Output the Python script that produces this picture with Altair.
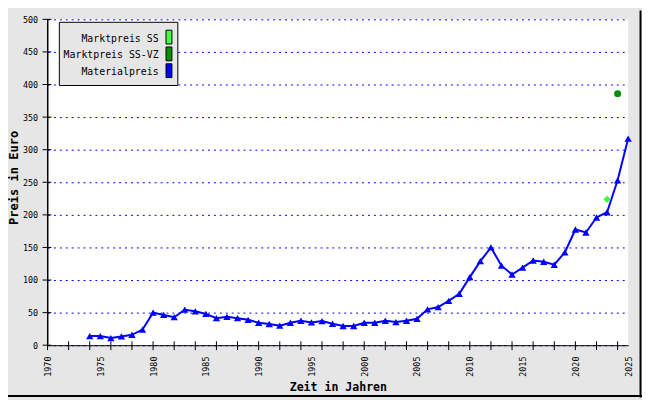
import altair as alt
import pandas as pd

# ---- data ----
years = list(range(1974, 2026))
material = [14, 14, 11, 13.5, 16, 24,
            50, 46.5, 43, 54.5, 52, 48, 41.5, 43.5, 41.5, 39,
            34.5, 32.5, 30, 34.5, 37.5, 35, 37, 33, 29.5, 29.5,
            34.5, 34.5, 37.5, 35.5, 37.5, 40.5, 55, 58.5, 68, 79,
            104.5, 129, 150, 122, 108.5, 119, 130, 128, 123.5, 142.5,
            177.5, 173, 196, 204, 253, 317]
ss_years = [2023]
ss_values = [224]
vz_years = [2024]
vz_values = [386]

x_label_years = list(range(1970, 2026, 5))
x_tick_years = list(range(1970, 2025, 2))
y_ticks = list(range(0, 501, 50))

legend_labels = ["Marktpreis SS", "Marktpreis SS-VZ", "Materialpreis"]
legend_colors = ["#40ff40", "#009100", "#0000ff"]

FONT = "DejaVu Sans Mono"
W, H = 588, 330

df = pd.DataFrame({"year": years, "value": material})
df_ss = pd.DataFrame({"year": ss_years, "value": ss_values})
df_vz = pd.DataFrame({"year": vz_years, "value": vz_values})
df_xt = pd.DataFrame({"year": x_tick_years})
df_yt = pd.DataFrame({"value": y_ticks})

xscale = alt.Scale(domain=[1970, 2025], nice=False, zero=False)
yscale = alt.Scale(domain=[0, 500], nice=False)

xaxis = alt.Axis(values=x_label_years, title="Zeit in Jahren", format="d",
                 labelAngle=270, labelAlign="right", labelBaseline="middle",
                 labelPadding=11, ticks=False, tickSize=0, grid=False,
                 labelFlush=False, labelOverlap=False,
                 domainColor="black", domainWidth=1,
                 labelFont=FONT, labelFontSize=8.5, labelColor="black",
                 titleFont=FONT, titleFontSize=11.7, titleFontWeight="bold",
                 titleColor="black", titleY=42, titleBaseline="middle", zindex=1)
yaxis = alt.Axis(values=y_ticks, title="Preis in Euro", format="d",
                 ticks=False, tickSize=0, labelPadding=10,
                 labelFlush=False, labelOverlap=False,
                 grid=True, gridColor="#0000ff", gridDash=[2, 4], gridWidth=1,
                 domainColor="black", domainWidth=1,
                 labelFont=FONT, labelFontSize=8.5, labelColor="black",
                 titleFont=FONT, titleFontSize=12.2, titleFontWeight="bold",
                 titleColor="black", titleAngle=270, titleX=-34, titleY=160,
                 titleAlign="center", titleBaseline="middle", zindex=0)

X = alt.X("year:Q", scale=xscale, axis=xaxis)
Y = alt.Y("value:Q", scale=yscale, axis=yaxis)

line = alt.Chart(df).mark_line(color="#0000ff", strokeWidth=2).encode(x=X, y=Y)
tri = alt.Chart(df).mark_point(shape="triangle-up", filled=True, size=55,
                               color="#0000ff", opacity=1).encode(x=X, y=Y)
ss = alt.Chart(df_ss).mark_point(shape="diamond", filled=True, size=55,
                                 color=legend_colors[0], opacity=1).encode(x=X, y=Y)
vz = alt.Chart(df_vz).mark_circle(size=50, color=legend_colors[1], opacity=1).encode(
    x=X, y=Y)

xticks = alt.Chart(df_xt).mark_rule(color="black", strokeWidth=1).encode(
    x=X, y=alt.value(H - 4), y2=alt.value(H + 5))
yticks = alt.Chart(df_yt).mark_rule(color="black", strokeWidth=1).encode(
    y=Y, x=alt.value(-5), x2=alt.value(4))
# y axis line drawn above the grid
ydomain = alt.Chart(alt.Data(values=[{}])).mark_rule(color="black", strokeWidth=1).encode(
    x=alt.value(0), y=alt.value(0), y2=alt.value(H))

one = alt.Data(values=[{}])
layers = [line, xticks, yticks, ydomain, tri, ss, vz]

# legend box
layers.append(alt.Chart(one).mark_rect(fill="#e6e6e6", stroke="black", strokeWidth=1).encode(
    x=alt.value(12), x2=alt.value(132), y=alt.value(3), y2=alt.value(67)))
for i, (lab, col) in enumerate(zip(legend_labels, legend_colors)):
    cy = 18 + 17 * i
    layers.append(alt.Chart(one).mark_rect(fill=col, stroke="black", strokeWidth=1).encode(
        x=alt.value(120), x2=alt.value(126), y=alt.value(cy - 7), y2=alt.value(cy + 7)))
    layers.append(alt.Chart(one).mark_text(font=FONT, fontSize=10, color="black",
                                           align="right", baseline="middle").encode(
        x=alt.value(112.5), y=alt.value(cy + 1.5), text=alt.value(lab)))

# outer frame (right and bottom edges)
layers.append(alt.Chart(one).mark_rule(color="black", strokeWidth=2).encode(
    x=alt.value(600.5), y=alt.value(-9), y2=alt.value(383)))
layers.append(alt.Chart(one).mark_rule(color="black", strokeWidth=2).encode(
    y=alt.value(381.5), x=alt.value(-40), x2=alt.value(602)))

chart = alt.layer(*layers).properties(
    width=W, height=H,
    padding={"left": 40, "top": 9, "right": 14, "bottom": 53},
    autosize=alt.AutoSizeParams(type="none"),
    background="#e6e6e6",
).configure_view(fill="white", strokeWidth=0)

chart.save("out.html", embed_options={"renderer": "svg", "actions": False})
